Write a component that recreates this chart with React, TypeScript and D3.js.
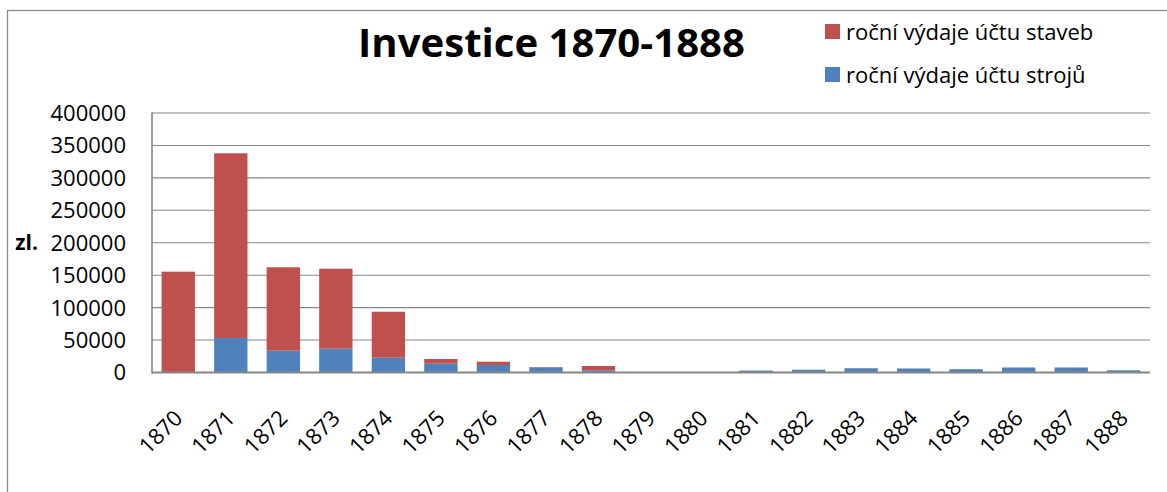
import React from "react";
import * as d3 from "d3";

// roky (kategorie osy x)
const years = ["1870", "1871", "1872", "1873", "1874", "1875", "1876", "1877", "1878", "1879",
  "1880", "1881", "1882", "1883", "1884", "1885", "1886", "1887", "1888"];

// roční výdaje účtu strojů (spodní, modrá)
const stroje = [0, 53200, 33600, 36700, 22800, 13600, 11600, 8000, 3400, 0,
  0, 3000, 4300, 6600, 6200, 5100, 7700, 7700, 3400];

// roční výdaje účtu staveb (horní, červená)
const stavby = [155400, 284700, 128600, 123300, 70900, 7200, 5000, 500, 6600, 0,
  0, 0, 0, 0, 0, 0, 0, 0, 0];

const yTicks = [0, 50000, 100000, 150000, 200000, 250000, 300000, 350000, 400000];

const seriesNames = ["roční výdaje účtu staveb", "roční výdaje účtu strojů"];

const RED = "#C0504D";
const BLUE = "#4F81BD";
const GRID = "#868686";
const FONT = "'Open Sans', 'Noto Sans', sans-serif";

export default function App() {
  const width = 1167;
  const height = 492;
  const plot = { left: 152, right: 1150, top: 113, bottom: 372.5 };

  const x = d3.scaleBand<string>()
    .domain(years)
    .range([plot.left, plot.right])
    .paddingInner(0.365)
    .paddingOuter(0.1825);

  const y = d3.scaleLinear()
    .domain([0, 400000])
    .range([plot.bottom, plot.top]);

  const rows = years.map((yr, i) => ({ year: yr, stroje: stroje[i], stavby: stavby[i] }));
  const stacked = d3.stack<any>().keys(["stroje", "stavby"])(rows);
  const colors: Record<string, string> = { stroje: BLUE, stavby: RED };

  return (
    <svg width={width} height={height} style={{ position: "absolute", left: 0, top: 0, background: "#fff" }}
      fontFamily={FONT}>
      {/* rámeček grafu */}
      <rect x={7.5} y={10.5} width={1300} height={600} fill="none" stroke="#8a8a8a" strokeWidth={1.3} />

      <text x={551.5} y={57} textAnchor="middle" fontSize={40} fontWeight="bold" fill="#000"
        textLength={387} lengthAdjust="spacingAndGlyphs">
        Investice 1870-1888
      </text>

      {/* legenda */}
      {seriesNames.map((name, i) => (
        <g key={name} transform={`translate(825, ${24 + i * 43})`}>
          <rect x={0} y={0} width={15} height={15} fill={i === 0 ? RED : BLUE} />
          <text x={21} y={15.5} fontSize={22} fill="#000">{name}</text>
        </g>
      ))}

      {/* mřížka */}
      {yTicks.map(t => (
        <line key={t} x1={plot.left} x2={plot.right} y1={y(t)} y2={y(t)}
          stroke={GRID} strokeWidth={t === 0 ? 0 : 1.1} />
      ))}

      {/* sloupce */}
      {stacked.map(s => (
        <g key={s.key} fill={colors[s.key]}>
          {s.map((d, i) => d[1] - d[0] > 0 ? (
            <rect key={i} x={x(years[i])} width={x.bandwidth()}
              y={y(d[1])} height={y(d[0]) - y(d[1])} />
          ) : null)}
        </g>
      ))}

      {/* osy */}
      <line x1={plot.left} x2={plot.left} y1={plot.top - 0.5} y2={plot.bottom + 1} stroke={GRID} strokeWidth={1.6} />
      <line x1={plot.left} x2={plot.right} y1={plot.bottom} y2={plot.bottom} stroke={GRID} strokeWidth={1.8} />

      {yTicks.map(t => (
        <text key={t} x={126} y={y(t)} dy="0.36em" textAnchor="end" fontSize={22} fill="#000">{t}</text>
      ))}

      <text x={38} y={y(200000)} dy="0.36em" textAnchor="end" fontSize={21} fontWeight="bold" fill="#000">zl.</text>

      {years.map(yr => (
        <text key={yr} transform={`translate(${x(yr)! + x.bandwidth() / 2}, 414) rotate(-45)`}
          textAnchor="end" dy="0.36em" fontSize={22} fill="#000">{yr}</text>
      ))}
    </svg>
  );
}
